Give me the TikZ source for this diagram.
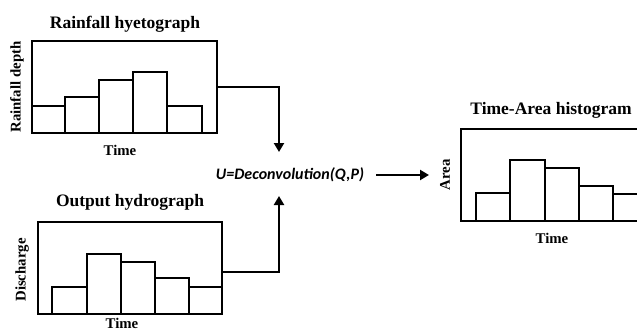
\documentclass[tikz,border=0pt]{standalone}
\usepackage{fontspec}
\setmainfont{Liberation Serif}
\newfontfamily\decofont{Carlito}
\usetikzlibrary{arrows.meta}
\begin{document}
\begin{tikzpicture}[x=1pt,y=-1pt,
  frame/.style={draw,line width=2.2pt,inner sep=0pt},
  bar/.style={draw,line width=1.8pt},
  title/.style={font=\bfseries\fontsize{17.5}{19}\selectfont,inner sep=0pt},
  axis/.style={font=\bfseries\fontsize{14.8}{16}\selectfont,inner sep=0pt},
  link/.style={line width=2.6pt,-{Triangle[length=9pt,width=10pt]}}]
\useasboundingbox (0,0) rectangle (637,332);
\clip (0,0) rectangle (637,332);
% Box 1: rainfall hyetograph
\draw[bar] (32,133) rectangle (65,106);
\draw[bar] (65,133) rectangle (99,97);
\draw[bar] (99,133) rectangle (133,80);
\draw[bar] (133,133) rectangle (167,72);
\draw[bar] (167,133) rectangle (202,106);
\node[frame,minimum width=185pt,minimum height=92pt] (b1) at (124.5,87) {};
\node[title] (t1) at (125,24) {Rainfall hyetograph};
\node[axis,rotate=90] (y1) at (17,87) {Rainfall depth};
\node[axis] (x1) at (120,150) {Time};
% Box 2: output hydrograph
\draw[bar] (52,314) rectangle (87,287);
\draw[bar] (87,314) rectangle (121,254);
\draw[bar] (121,314) rectangle (155,262);
\draw[bar] (155,314) rectangle (189,278);
\draw[bar] (189,314) rectangle (222,287);
\node[frame,minimum width=184pt,minimum height=92pt] (b2) at (130,268) {};
\node[title] (t2) at (130,202) {Output hydrograph};
\node[axis,rotate=90] (y2) at (22,270) {Discharge};
\node[axis] (x2) at (122,323.5) {Time};
% Deconvolution
\node[inner sep=0pt,font=\decofont\bfseries\itshape\fontsize{16}{18}\selectfont] (dec) at (290,175) {U=Deconvolution(Q,P)};
\coordinate (dtop) at (279,152);
\coordinate (dbot) at (279,196);
\coordinate (dout) at (429,175);
\draw[link] (b1.east) -| (dtop);
\draw[link] ([yshift=-4pt]b2.east) -| (dbot);
\draw[link] (376,175) -- (dout);
% Box 3: time-area histogram
\draw[bar] (476,221) rectangle (510,193);
\draw[bar] (510,221) rectangle (545,160);
\draw[bar] (545,221) rectangle (579,168);
\draw[bar] (579,221) rectangle (613,186);
\draw[bar] (613,221) rectangle (647,194);
\draw[frame] (461,129) rectangle (660,221);
\node[title] (t3) at (551,110) {Time-Area histogram};
\node[axis,rotate=90] (y3) at (445,175) {Area};
\node[axis] (x3) at (552,238) {Time};
\end{tikzpicture}
\end{document}
